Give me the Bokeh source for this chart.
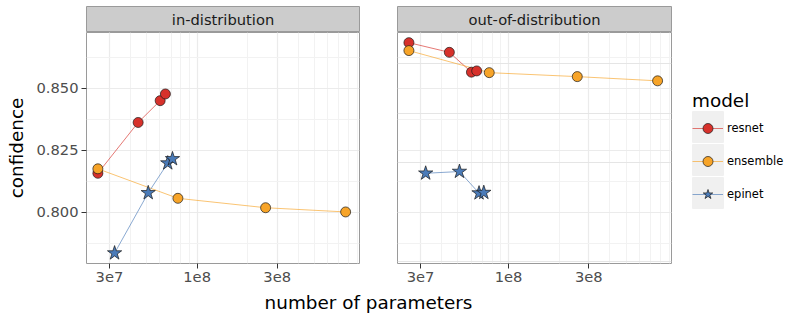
from bokeh.plotting import figure
from bokeh.models import (Range1d, FixedTicker, NumeralTickFormatter, CustomJSTickFormatter,
                          Label, Legend, LegendItem, Grid, Spacer, BoxAnnotation)
from bokeh.layouts import row, column
from bokeh.embed import file_html
from bokeh.resources import INLINE

# ---------------- data ----------------
panel_titles = ["in-distribution", "out-of-distribution"]
models = ["resnet", "ensemble", "epinet"]

resnet_params = [25.6e6, 44.5e6, 60.2e6, 64.7e6]
ensemble_params = [25.6e6, 76.8e6, 256e6, 768e6]
epinet_params = [32.2e6, 51.1e6, 66.8e6, 71.3e6]

resnet_in = [0.8157, 0.8362, 0.8450, 0.8477]
ensemble_in = [0.8175, 0.8056, 0.8018, 0.8001]
epinet_in = [0.7835, 0.8078, 0.8198, 0.8215]

resnet_ood = [0.8684, 0.8645, 0.8565, 0.8570]
ensemble_ood = [0.8652, 0.8563, 0.8547, 0.8530]
epinet_ood = [0.8157, 0.8164, 0.8077, 0.8079]

x_ticks = [3e7, 1e8, 3e8]
y_ticks = [0.800, 0.825, 0.850]

# ---------------- style ----------------
FONT = "DejaVu Sans"
colors = {"resnet": "#D7312B", "ensemble": "#F7A428", "epinet": "#4B7BB8"}
markers = {"resnet": "circle", "ensemble": "circle", "epinet": "star"}
msizes = {"resnet": 10, "ensemble": 10, "epinet": 15}

x_minor = [k * 1e7 for k in range(2, 10)] + [k * 1e8 for k in range(2, 10)]
y_minor = [0.7875, 0.8125, 0.8375, 0.8625]
X_RANGE = (2.19e7, 9.29e8)
Y_RANGE = (0.7793, 0.8725)

LEFT_W, RIGHT_W, LEG_W = 378, 294, 127
TOP_PAD, STRIP_H, FRAME_H, BOTTOM_B, XLAB_H = 6, 26, 231, 26, 24
PANEL_H = FRAME_H + BOTTOM_B
GRID_MAJOR, GRID_MINOR = "#EBEBEB", "#F2F2F2"


def strip(text, width, bl, br):
    s = figure(width=width, height=STRIP_H, x_range=Range1d(0, 1), y_range=Range1d(0, 1),
               x_axis_type=None, y_axis_type=None, toolbar_location=None,
               output_backend="svg", min_border_left=bl, min_border_right=br,
               min_border_top=0, min_border_bottom=0)
    s.grid.visible = False
    s.background_fill_color = "#CCCCCC"
    s.outline_line_color = "#9a9a9a"
    s.add_layout(Label(x=0.5, y=0.5, text=text, text_align="center", text_baseline="middle",
                       text_font=FONT, text_font_size="14.7px", text_color="#1a1a1a"))
    return s


def style_ticks(ax):
    ax.axis_line_color = None
    ax.major_tick_line_color = "#333333"
    ax.major_tick_in = 0
    ax.major_tick_out = 5
    ax.minor_tick_line_color = None
    ax.major_label_text_font = FONT
    ax.major_label_text_font_size = "14.7px"
    ax.major_label_text_color = "#4d4d4d"
    ax.major_label_standoff = 3


def panel(series, width, bl, br, show_y):
    p = figure(width=width, height=PANEL_H, x_axis_type="log",
               x_range=Range1d(*X_RANGE), y_range=Range1d(*Y_RANGE),
               toolbar_location=None, output_backend="svg",
               min_border_left=bl, min_border_right=br, min_border_top=0,
               min_border_bottom=BOTTOM_B, y_axis_location="left" if show_y else None)
    p.background_fill_color = "white"
    p.outline_line_color = "#9a9a9a"
    p.outline_line_width = 1

    p.xaxis.ticker = FixedTicker(ticks=x_ticks, minor_ticks=x_minor)
    p.xaxis.formatter = CustomJSTickFormatter(code="return tick.toExponential(0).replace('+','');")
    style_ticks(p.xaxis[0])
    p.xgrid.grid_line_color = GRID_MAJOR
    p.xgrid.grid_line_width = 1.2
    p.xgrid.minor_grid_line_color = GRID_MINOR
    p.xgrid.minor_grid_line_width = 1

    yt = FixedTicker(ticks=y_ticks, minor_ticks=y_minor)
    if show_y:
        p.yaxis.ticker = yt
        p.yaxis.formatter = NumeralTickFormatter(format="0.000")
        style_ticks(p.yaxis[0])
        p.yaxis.axis_label = "confidence"
        p.yaxis.axis_label_text_font = FONT
        p.yaxis.axis_label_text_font_size = "18.4px"
        p.yaxis.axis_label_text_font_style = "normal"
        p.yaxis.axis_label_text_color = "black"
        p.yaxis.axis_label_standoff = 6
        p.ygrid.grid_line_color = GRID_MAJOR
        p.ygrid.grid_line_width = 1.2
        p.ygrid.minor_grid_line_color = GRID_MINOR
    else:
        p.add_layout(Grid(dimension=1, ticker=yt, grid_line_color=GRID_MAJOR,
                          grid_line_width=1.2, minor_grid_line_color=GRID_MINOR))

    for m in models:
        xs, ys = series[m]
        p.line(xs, ys, line_color=colors[m], line_alpha=0.65, line_width=1)
    for m in models:
        xs, ys = series[m]
        p.scatter(xs, ys, marker=markers[m], size=msizes[m],
                  fill_color=colors[m], line_color="#1a1a1a", line_width=0.7)
    return p


series_in = {"resnet": (resnet_params, resnet_in),
             "ensemble": (ensemble_params, ensemble_in),
             "epinet": (epinet_params, epinet_in)}
series_ood = {"resnet": (resnet_params, resnet_ood),
              "ensemble": (ensemble_params, ensemble_ood),
              "epinet": (epinet_params, epinet_ood)}

s1 = strip(panel_titles[0], LEFT_W, 86, 19)
p1 = panel(series_in, LEFT_W, 86, 19, True)
s2 = strip(panel_titles[1], RIGHT_W, 19, 1)
p2 = panel(series_ood, RIGHT_W, 19, 1, False)

# legend figure: renderers lie outside its ranges, only the legend keys show
leg = figure(width=LEG_W, height=FRAME_H, x_range=Range1d(0, LEG_W), y_range=Range1d(FRAME_H, 0),
             x_axis_type=None, y_axis_type=None, toolbar_location=None,
             output_backend="svg", min_border=0)
leg.grid.visible = False
leg.outline_line_color = None
for top_px in (79, 112, 145):
    leg.add_layout(BoxAnnotation(left=20, right=51, top=top_px, bottom=top_px + 31,
                                 fill_color="#F0F0F0", fill_alpha=1,
                                 line_color="#E2E2E2", line_width=1, level="underlay"))
items = []
for m in models:
    xs, ys = series_ood[m]
    lr = leg.line(xs, ys, line_color=colors[m], line_alpha=0.65, line_width=1)
    sr = leg.scatter(xs, ys, marker=markers[m], size=msizes[m],
                     fill_color=colors[m], line_color="#1a1a1a", line_width=0.7)
    items.append(LegendItem(label=m, renderers=[lr, sr]))
legend = Legend(items=items, title="model", location="center_left", margin=20, padding=0,
                glyph_width=31, glyph_height=25, spacing=8, label_standoff=4,
                label_text_font=FONT, label_text_font_size="11.5px", label_text_color="black",
                title_text_font=FONT, title_text_font_size="18.4px",
                title_text_font_style="normal", title_text_color="black",
                title_standoff=5, border_line_color=None, background_fill_alpha=0)
leg.add_layout(legend)

TOTAL_W = LEFT_W + RIGHT_W + LEG_W
xfig = figure(width=TOTAL_W, height=XLAB_H, x_range=Range1d(0, TOTAL_W), y_range=Range1d(0, XLAB_H),
              x_axis_type=None, y_axis_type=None, toolbar_location=None, output_backend="svg",
              min_border=0)
xfig.grid.visible = False
xfig.outline_line_color = None
xfig.add_layout(Label(x=368, y=1, text="number of parameters", text_align="center",
                      text_baseline="bottom", text_font=FONT, text_font_size="18.4px",
                      text_color="black"))

top = row(column(s1, p1), column(s2, p2),
          column(Spacer(width=LEG_W, height=STRIP_H), leg))
layout = column(Spacer(width=TOTAL_W, height=TOP_PAD), top, xfig)
open("out.html", "w").write(file_html(layout, INLINE))
